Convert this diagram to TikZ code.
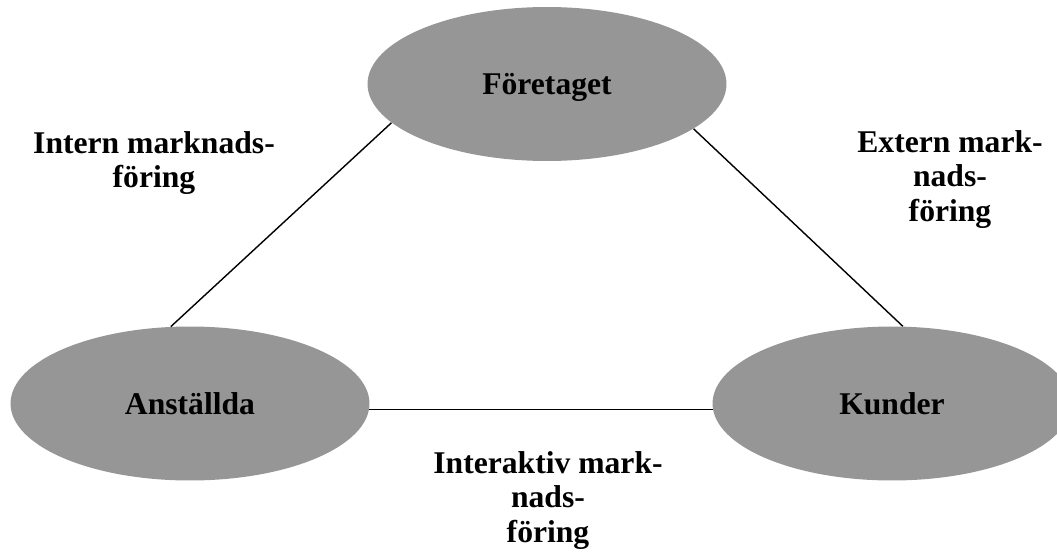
\documentclass[tikz,border=0pt]{standalone}
\usepackage{fontspec}
\setmainfont{Liberation Serif}
\usepackage{xcolor}
\usetikzlibrary{shapes.geometric}
\definecolor{ovalgray}{RGB}{150,150,150}

\begin{document}
\begin{tikzpicture}[x=0.02cm,y=-0.02cm,
    oval/.style={ellipse,fill=ovalgray,inner sep=0pt,minimum width=7.18cm,minimum height=3.08cm,
      font=\fontsize{18}{19.8}\selectfont\bfseries,text depth=0pt},
    flowlabel/.style={align=center,font=\fontsize{18}{19.8}\selectfont\bfseries},
    link/.style={line width=0.8pt}]
        \useasboundingbox (0,0) rectangle (1057,554);
        \clip (0,0) rectangle (1057,554);
        % Parties
        \node[oval] (F) at (547,84) {Företaget};
        \node[oval] (A) at (190,403.5) {Anställda};
        \node[oval] (K) at (892,403.5) {Kunder};
        % Relations
        \draw[link] (F.194) -- (A.104);
        \draw[link] (F.343) -- (K.82);
        \draw[link] (A.-2) -- (K.182);
        % Labels
        \node[flowlabel] (intern) at (154,163) {Intern marknads-\\föring};
        \node[flowlabel] (extern) at (950,179.5) {Extern mark-\\nads-\\föring};
        \node[flowlabel] (interaktiv) at (548,500.5) {Interaktiv mark-\\nads-\\föring};
      \end{tikzpicture}
\end{document}
